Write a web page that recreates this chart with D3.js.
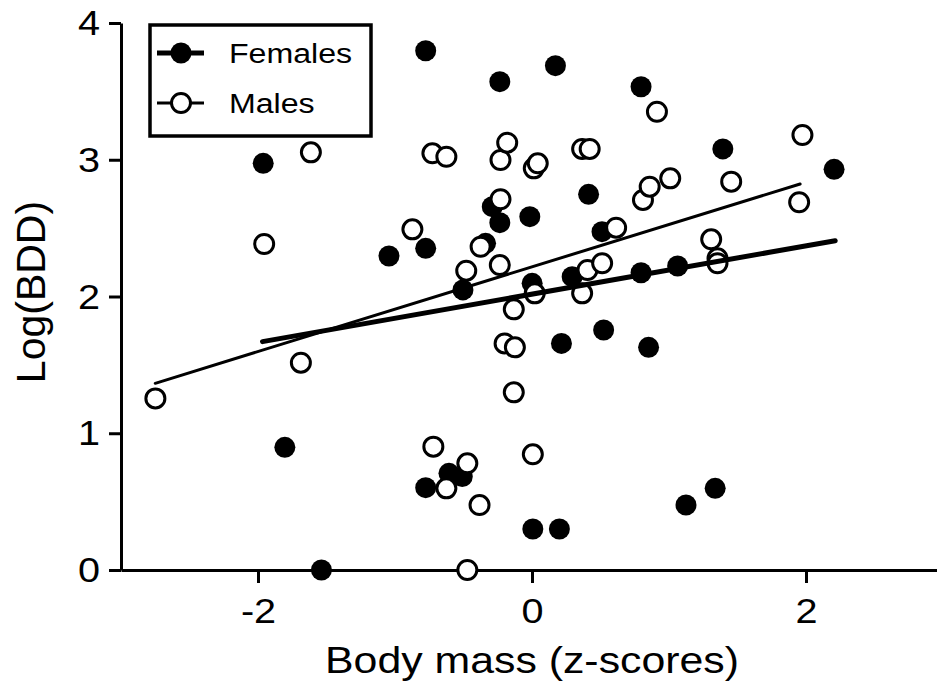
<html>
  <head>
    <title>Body mass vs Log(BDD)</title>
  </head>
<script src='https://d3js.org/d3.v7.min.js'></script>
<style>
body { margin: 0; background: white; }
text { font-family: "Liberation Sans", Arial, sans-serif; fill: black; }
</style>
<body>
<svg width=937 height=686></svg>
<script>
// points
var femaleX = [-1.962, -1.804, -1.537, -1.044, -0.776, -0.776, -0.776, -0.606, -0.509, -0.504, -0.339,
               -0.290, -0.235, -0.235, -0.016, 0.001, 0.006, 0.171, 0.200, 0.215, 0.293, 0.413,
               0.511, 0.523, 0.796, 0.796, 0.851, 1.063, 1.124, 1.337, 1.393, 2.205];
var femaleY = [2.974, 0.897, 0.000, 2.296, 3.797, 2.352, 0.602, 0.707, 0.683, 2.048, 2.389,
               2.657, 3.571, 2.540, 2.584, 2.096, 0.300, 3.688, 0.300, 1.657, 2.145, 2.747,
               2.474, 1.755, 3.534, 2.174, 1.628, 2.223, 0.475, 0.597, 3.079, 2.930];
var maleX = [-2.749, -1.955, -1.687, -1.614, -0.873, -0.727, -0.720, -0.625, -0.625, -0.480, -0.472,
             -0.472, -0.383, -0.375, -0.235, -0.230, -0.230, -0.200, -0.181, -0.133, -0.125, -0.133,
             0.006, 0.013, 0.020, 0.042, 0.366, 0.366, 0.405, 0.421, 0.512, 0.614, 0.810, 0.859,
             0.912, 1.009, 1.308, 1.354, 1.354, 1.454, 1.950, 1.974];
var maleY = [1.255, 2.384, 1.516, 3.054, 2.491, 3.047, 0.902, 3.022, 0.597, 2.189, 0.780,
             0.000, 0.475, 2.364, 2.230, 2.998, 2.711, 1.657, 3.125, 1.906, 1.628, 1.299,
             0.846, 2.937, 2.023, 2.974, 3.079, 2.023, 2.194, 3.079, 2.243, 2.503, 2.706, 2.803,
             3.351, 2.864, 2.418, 2.279, 2.243, 2.840, 2.689, 3.181];

// regression lines (end points)
var femaleFitX = [-1.967, 2.213];
var femaleFitY = [1.670, 2.408];
var maleFitX = [-2.750, 1.957];
var maleFitY = [1.365, 2.823];

var xTicks = [-2, 0, 2];
var yTicks = [0, 1, 2, 3, 4];
var legendNames = ["Females", "Males"];

var x = d3.scaleLinear().domain([-3, 3]).range([121, 943]);
var y = d3.scaleLinear().domain([0, 4]).range([570, 23]);
var svg = d3.select("svg");
var stretch = 1.19;

// axes
var xAxis = svg.append("g")
    .attr("transform", "translate(0,570)")
    .call(d3.axisBottom(x).tickValues(xTicks).tickSize(13).tickSizeOuter(0).tickPadding(14)
          .tickFormat(function(d) { return d < 0 ? "-" + Math.abs(d) : d; }));
var yAxis = svg.append("g")
    .attr("transform", "translate(121,0)")
    .call(d3.axisLeft(y).tickValues(yTicks).tickSize(12).tickSizeOuter(0).tickPadding(9)
          .tickFormat(d3.format("d")));

[xAxis, yAxis].forEach(function(g) {
  g.attr("font-family", null).attr("font-size", 36);
  g.selectAll("path, line").attr("stroke", "black").attr("stroke-width", 3);
  g.selectAll("text").attr("fill", "black");
});
xAxis.selectAll("text").attr("transform", "scale(1.1,1)");
yAxis.selectAll("text").attr("x", -21 / 1.1).attr("transform", "scale(1.1,1)");

// points
function pts(xs, ys) { return xs.map(function(v, i) { return [v, ys[i]]; }); }

svg.append("g").selectAll("circle")
    .data(pts(femaleX, femaleY))
    .enter()
    .append("circle")
      .attr("cx", function(d) { return x(d[0]); })
      .attr("cy", function(d) { return y(d[1]); })
      .attr("r", 10.5)
      .attr("fill", "black");

svg.append("g").selectAll("circle")
    .data(pts(maleX, maleY))
    .enter()
    .append("circle")
      .attr("cx", function(d) { return x(d[0]); })
      .attr("cy", function(d) { return y(d[1]); })
      .attr("r", 9.5)
      .attr("fill", "white")
      .attr("stroke", "black")
      .attr("stroke-width", 3);

// fit lines
var line = d3.line().x(function(d) { return x(d[0]); }).y(function(d) { return y(d[1]); });
svg.append("path").attr("d", line(pts(maleFitX, maleFitY)))
    .attr("stroke", "black").attr("stroke-width", 3).attr("fill", "none").attr("stroke-linecap", "round");
svg.append("path").attr("d", line(pts(femaleFitX, femaleFitY)))
    .attr("stroke", "black").attr("stroke-width", 5).attr("fill", "none").attr("stroke-linecap", "round");

// legend
svg.append("rect")
    .attr("x", 150).attr("y", 25).attr("width", 221).attr("height", 111)
    .attr("fill", "white").attr("stroke", "black").attr("stroke-width", 3.5);

legendNames.forEach(function(name, i) {
  var ly = 53 + i * 50;
  svg.append("line")
      .attr("x1", 157).attr("x2", 204).attr("y1", ly).attr("y2", ly)
      .attr("stroke", "black").attr("stroke-width", i == 0 ? 5 : 3);
  if (i == 0) {
    svg.append("circle").attr("cx", 181).attr("cy", ly).attr("r", 10.5).attr("fill", "black");
  } else {
    svg.append("circle").attr("cx", 181).attr("cy", ly).attr("r", 9.5)
        .attr("fill", "white").attr("stroke", "black").attr("stroke-width", 3);
  }
  svg.append("text")
      .attr("transform", "translate(229," + (ly + 10) + ") scale(" + stretch + ",1)")
      .attr("font-size", 27)
      .text(name);
});

// axis titles
svg.append("text")
    .attr("transform", "translate(532,673) scale(" + stretch + ",1)")
    .attr("font-size", 36)
    .style("text-anchor", "middle")
    .text("Body mass (z-scores)");

svg.append("text")
    .attr("transform", "translate(45,292) rotate(-90)")
    .attr("font-size", 41)
    .style("text-anchor", "middle")
    .text("Log(BDD)");
</script>
</body>
</html>
